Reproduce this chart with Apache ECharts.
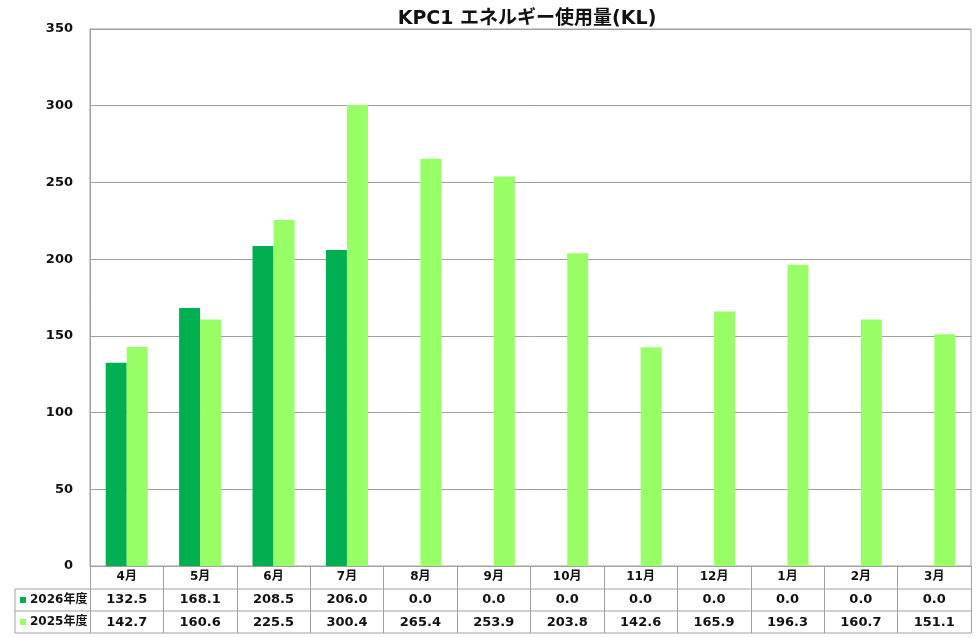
<!DOCTYPE html>
<html><head><meta charset="utf-8">
<script src="https://cdn.jsdelivr.net/npm/echarts@6/dist/echarts.min.js"></script>
<style>html,body{margin:0;padding:0;background:#fff}#c{width:976px;height:638px}</style>
</head><body><div id="c"></div>
<script>
const titleText = 'KPC1 エネルギー使用量(KL)';
const months = ['4月','5月','6月','7月','8月','9月','10月','11月','12月','1月','2月','3月'];
const seriesNames = ['2026年度','2025年度'];
const fy2026 = [132.5,168.1,208.5,206.0,0.0,0.0,0.0,0.0,0.0,0.0,0.0,0.0];
const fy2025 = [142.7,160.6,225.5,300.4,265.4,253.9,203.8,142.6,165.9,196.3,160.7,151.1];
const yTicks = {min:0, max:350, interval:50};

const FONT = '"DejaVu Sans", "Noto Sans CJK JP", sans-serif';
const C26 = '#00B050', C25 = '#99FF66', LINE = '#a0a0a0';
const chart = echarts.init(document.getElementById('c'));
const G = {left:90, right:5, top:29, bottom:72};
const tableTop = 566, r1 = 589, r2 = 611, r3 = 633, tableLeft = 15, right = 971;
const fmt = v => v.toFixed(1);
const legendText = {fontFamily:FONT, fontSize:12, fontWeight:'bold', color:'#111', lineHeight:14, padding:[0,0,0,-1]};

chart.setOption({
  animation:false,
  title:{text:titleText, left:522, top:5, textAlign:'center',
    textStyle:{fontFamily:FONT, fontSize:19, fontWeight:'bold', color:'#111'}},
  legend:[
    {data:[seriesNames[0]], left:20, top:r1+4, itemWidth:6, itemHeight:6, itemGap:0, padding:0,
     icon:'rect', textStyle:legendText},
    {data:[seriesNames[1]], left:20, top:r2+4, itemWidth:6, itemHeight:6, itemGap:0, padding:0,
     icon:'rect', textStyle:legendText}
  ],
  grid:{left:G.left, right:G.right, top:G.top, bottom:G.bottom, show:true, borderColor:LINE, borderWidth:1},
  xAxis:{type:'category', data:months, boundaryGap:true,
    axisLine:{show:true, lineStyle:{color:LINE, width:1}},
    axisTick:{show:true, length:r3-tableTop, alignWithLabel:false, lineStyle:{color:LINE, width:1}},
    axisLabel:{margin:0, interval:0, lineHeight:22.5, fontFamily:FONT,
      formatter:(v,i)=>'{m|'+v+'}\n{v|'+fmt(fy2026[i])+'}\n{v|'+fmt(fy2025[i])+'}',
      rich:{
        m:{fontFamily:FONT, fontSize:12, fontWeight:'bold', color:'#111', lineHeight:22.5},
        v:{fontFamily:FONT, fontSize:13, fontWeight:'bold', color:'#111', lineHeight:22.5}
      }}},
  yAxis:{type:'value', min:yTicks.min, max:yTicks.max, interval:yTicks.interval,
    axisLine:{show:true, lineStyle:{color:LINE}}, axisTick:{show:false},
    splitLine:{show:true, lineStyle:{color:LINE, width:1}},
    axisLabel:{margin:17, fontFamily:FONT, fontSize:13, fontWeight:'bold', color:'#111'}},
  graphic:[
    {type:'line', shape:{x1:tableLeft, y1:r1, x2:right, y2:r1}, style:{stroke:LINE, lineWidth:1}},
    {type:'line', shape:{x1:tableLeft, y1:r2, x2:right, y2:r2}, style:{stroke:LINE, lineWidth:1}},
    {type:'line', shape:{x1:tableLeft, y1:r3, x2:right, y2:r3}, style:{stroke:LINE, lineWidth:1}},
    {type:'line', shape:{x1:tableLeft, y1:r1, x2:tableLeft, y2:r3}, style:{stroke:LINE, lineWidth:1}}
  ],
  series:[
    {name:seriesNames[0], type:'bar', data:fy2026, barWidth:21, barGap:'0%', itemStyle:{color:C26}},
    {name:seriesNames[1], type:'bar', data:fy2025, barWidth:21, barGap:'0%', itemStyle:{color:C25}}
  ]
});
</script></body></html>
